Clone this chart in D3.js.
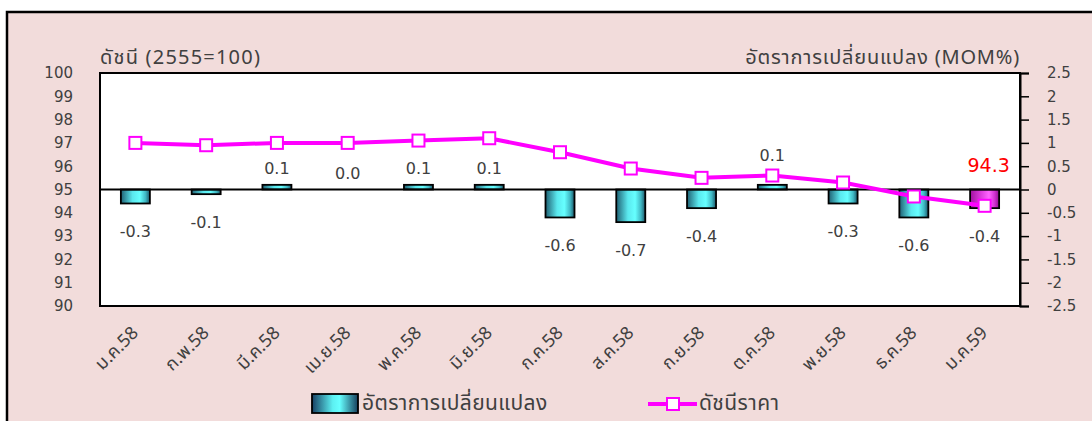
<!DOCTYPE html>
<html>
<head>
<meta charset="utf-8">
<script src="https://cdn.jsdelivr.net/npm/d3@7"></script>
<style>
  html, body { margin: 0; padding: 0; background: #ffffff; }
  svg { display: block; }
  text { font-family: "Noto Sans Thai", Tahoma, "Noto Sans", "DejaVu Sans", sans-serif; fill: #404040; }
  text.num { font-family: "DejaVu Sans", Tahoma, sans-serif; }
</style>
</head>
<body>
<svg id="chart" width="1092" height="421"></svg>
<script>
// Monthly categories (Thai Buddhist-era month abbreviations)
const months = ["ม.ค.58", "ก.พ.58", "มี.ค.58", "เม.ย.58", "พ.ค.58", "มิ.ย.58", "ก.ค.58",
                "ส.ค.58", "ก.ย.58", "ต.ค.58", "พ.ย.58", "ธ.ค.58", "ม.ค.59"];
// Month-on-month change (%), right axis
const momChange = [-0.3, -0.1, 0.1, 0.0, 0.1, 0.1, -0.6, -0.7, -0.4, 0.1, -0.3, -0.6, -0.4];
// Price index (2555 = 100), left axis
const priceIndex = [97.0, 96.9, 97.0, 97.0, 97.1, 97.2, 96.6, 95.9, 95.5, 95.6, 95.3, 94.7, 94.3];
// Axis ticks
const leftTicks = [90, 91, 92, 93, 94, 95, 96, 97, 98, 99, 100];
const rightTicks = [-2.5, -2, -1.5, -1, -0.5, 0, 0.5, 1, 1.5, 2, 2.5];
// Text
const leftTitle = "ดัชนี (2555=100)";
const rightTitle = "อัตราการเปลี่ยนแปลง (MOM%)";
const barLegend = "อัตราการเปลี่ยนแปลง";
const lineLegend = "ดัชนีราคา";

const svg = d3.select("#chart");
const plot = { left: 100, right: 1020, top: 73, bottom: 306 };

const fmt = v => (v < 0 ? "-" : "") + Math.abs(v).toFixed(1);
const fmtTick = v => (v < 0 ? "-" : "") + String(Math.abs(v));

// gradients for the bars
const defs = svg.append("defs");
function hGrad(id, stops) {
  const g = defs.append("linearGradient").attr("id", id)
    .attr("x1", "0%").attr("x2", "100%").attr("y1", "0%").attr("y2", "0%");
  stops.forEach(([o, c]) => g.append("stop").attr("offset", o).attr("stop-color", c));
}
hGrad("cyanGrad", [["0%", "#1f5f72"], ["40%", "#5ae8ee"], ["65%", "#66ffff"], ["85%", "#3fb8c4"], ["100%", "#1b5466"]]);
hGrad("magGrad", [["0%", "#a0109f"], ["40%", "#e040e0"], ["65%", "#ff66ff"], ["85%", "#d030d0"], ["100%", "#8f0f8f"]]);
hGrad("legendGrad", [["0%", "#173f63"], ["45%", "#5cf0f2"], ["60%", "#66ffff"], ["100%", "#163e5c"]]);

// chart area background and border
svg.append("rect").attr("x", 7).attr("y", 12).attr("width", 1100).attr("height", 420)
  .attr("fill", "#f2dcdb").attr("stroke", "#000").attr("stroke-width", 2.5);

const x = d3.scaleBand().domain(months).range([plot.left, plot.right]).padding(0);
const yL = d3.scaleLinear().domain([90, 100]).range([plot.bottom, plot.top]);
const yR = d3.scaleLinear().domain([-2.5, 2.5]).range([plot.bottom, plot.top]);

// plot area
svg.append("rect").attr("x", plot.left).attr("y", plot.top)
  .attr("width", plot.right - plot.left).attr("height", plot.bottom - plot.top)
  .attr("fill", "#ffffff");

// left axis
const gl = svg.append("g").attr("transform", `translate(${plot.left},0)`)
  .call(d3.axisLeft(yL).tickValues(leftTicks).tickSize(0).tickPadding(27).tickFormat(fmtTick));
gl.select(".domain").remove();
gl.selectAll("text").attr("class", "num").style("font-size", "15px").attr("fill", "#404040");

// right axis
const gr = svg.append("g").attr("transform", `translate(${plot.right},0)`)
  .call(d3.axisRight(yR).tickValues(rightTicks).tickSize(9).tickPadding(18).tickFormat(fmtTick));
gr.select(".domain").attr("stroke", "#000").attr("stroke-width", 2);
gr.selectAll(".tick line").attr("stroke", "#000").attr("stroke-width", 1.5);
gr.selectAll("text").attr("class", "num").style("font-size", "15px").attr("fill", "#404040");

// axis titles
svg.append("text").attr("x", plot.left).attr("y", 64).style("font-size", "20px")
  .style("letter-spacing", "1.2px").text(leftTitle);
svg.append("text").attr("x", plot.right).attr("y", 64).attr("text-anchor", "end")
  .style("font-size", "20px").style("letter-spacing", "0.8px").text(rightTitle);

// bars
const barW = x.bandwidth() * 0.41;
const last = months.length - 1;
svg.append("g").selectAll("rect").data(momChange).join("rect")
  .attr("x", (d, i) => x(months[i]) + x.bandwidth() / 2 - barW / 2)
  .attr("y", d => Math.min(yR(d), yR(0)))
  .attr("width", barW)
  .attr("height", d => Math.abs(yR(d) - yR(0)))
  .attr("fill", (d, i) => i === last ? "url(#magGrad)" : "url(#cyanGrad)")
  .attr("stroke", "#000").attr("stroke-width", 1.8);

// zero line
svg.append("line").attr("x1", plot.left).attr("x2", plot.right)
  .attr("y1", yR(0)).attr("y2", yR(0)).attr("stroke", "#000").attr("stroke-width", 1.8);

// plot frame
svg.append("rect").attr("x", plot.left).attr("y", plot.top)
  .attr("width", plot.right - plot.left).attr("height", plot.bottom - plot.top)
  .attr("fill", "none").attr("stroke", "#000").attr("stroke-width", 2);

// price index line
const cx = i => x(months[i]) + x.bandwidth() / 2;
svg.append("path").datum(priceIndex)
  .attr("d", d3.line().x((d, i) => cx(i)).y(d => yL(d)))
  .attr("fill", "none").attr("stroke", "#ff00ff").attr("stroke-width", 4);
svg.append("g").selectAll("rect").data(priceIndex).join("rect")
  .attr("x", (d, i) => cx(i) - 6).attr("y", d => yL(d) - 6)
  .attr("width", 12).attr("height", 12)
  .attr("fill", "#fff").attr("stroke", "#ff00ff").attr("stroke-width", 2);

// bar value labels (lifted above the line marker when they would collide)
svg.append("g").selectAll("text").data(momChange).join("text")
  .attr("class", "num")
  .attr("x", (d, i) => cx(i))
  .attr("y", (d, i) => {
    let yc = d < 0 ? yR(d) + 28 : yR(d) - 16;
    const my = yL(priceIndex[i]);
    if (d >= 0 && Math.abs(yc - my) < 14) yc = my - 20;
    return yc;
  })
  .attr("dy", "0.35em").attr("text-anchor", "middle")
  .style("font-size", "16px").text(d => fmt(d));

// latest index value
svg.append("text").attr("class", "num").attr("x", cx(last) + 4).attr("y", yL(priceIndex[last]) - 40)
  .attr("dy", "0.35em").attr("text-anchor", "middle")
  .style("font-size", "19px").style("fill", "#ff0000").text(priceIndex[last].toFixed(1));

// category labels
svg.append("g").selectAll("text").data(months).join("text")
  .attr("transform", (d, i) => `translate(${cx(i) + 4},${plot.bottom + 28}) rotate(-45)`)
  .attr("text-anchor", "end").style("font-size", "18px").text(d => d);

// legend
svg.append("rect").attr("x", 312).attr("y", 394).attr("width", 46).attr("height", 19)
  .attr("fill", "url(#legendGrad)").attr("stroke", "#000").attr("stroke-width", 1.8);
svg.append("text").attr("x", 362).attr("y", 403).attr("dy", "0.35em")
  .style("font-size", "21px").style("letter-spacing", "0.4px").text(barLegend);
svg.append("line").attr("x1", 648).attr("x2", 697).attr("y1", 404).attr("y2", 404)
  .attr("stroke", "#ff00ff").attr("stroke-width", 4);
svg.append("rect").attr("x", 667).attr("y", 398).attr("width", 12).attr("height", 12)
  .attr("fill", "#fff").attr("stroke", "#ff00ff").attr("stroke-width", 2);
svg.append("text").attr("x", 699).attr("y", 403).attr("dy", "0.35em")
  .style("font-size", "21px").style("letter-spacing", "0.4px").text(lineLegend);
</script>
</body>
</html>
